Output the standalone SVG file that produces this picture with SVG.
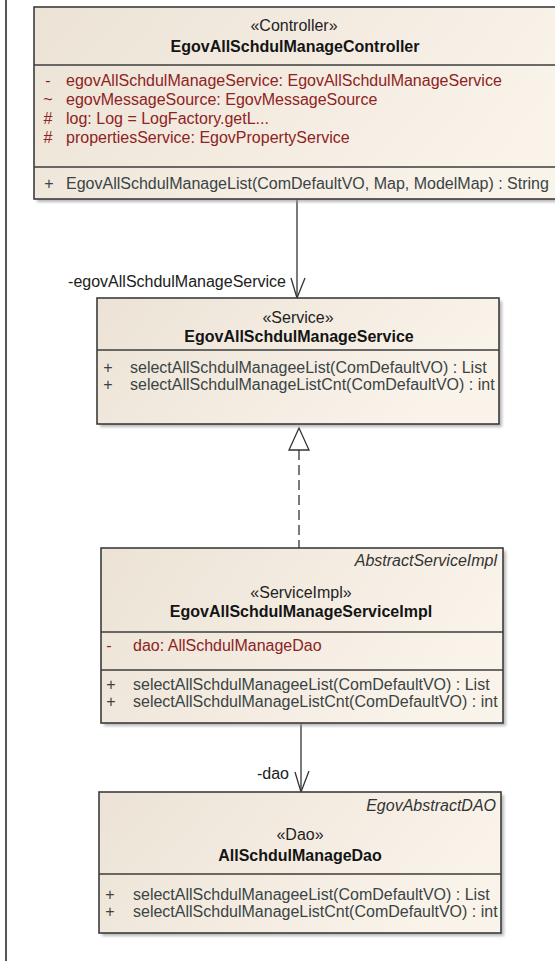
<svg xmlns="http://www.w3.org/2000/svg" width="555" height="961" viewBox="0 0 555 961">
<style>
  text { font-family: "Liberation Sans", Arial, sans-serif; font-size: 16px; }
  .stereo { fill: #1e1e1e; text-anchor: middle; }
  .title { fill: #141414; text-anchor: middle; font-weight: bold; }
  .attr { fill: #8e2323; }
  .meth { fill: #3a4444; }
  .vis { text-anchor: middle; }
  .parent { fill: #333333; font-style: italic; text-anchor: end; }
  .lbl { fill: #202020; text-anchor: end; }
  .box { fill: url(#fillG); stroke: #3c3c3c; stroke-width: 1.6; }
  .shadow { fill: #9a9a9a; opacity: 0.7; filter: url(#blur); }
  .sep { stroke: #3c3c3c; stroke-width: 1.6; }
  .conn { stroke: #333333; stroke-width: 1.3; fill: none; }
  .dash { stroke-dasharray: 10 5; }
</style>
<defs>
  <linearGradient id="fillG" x1="0" y1="0" x2="1" y2="0.3">
    <stop offset="0" stop-color="#ece3d6"/>
    <stop offset="1" stop-color="#faf3ea"/>
  </linearGradient>
  <filter id="blur" x="-5%" y="-5%" width="110%" height="110%">
    <feGaussianBlur stdDeviation="1.5"/>
  </filter>
  <clipPath id="cpCtrl"><rect x="34" y="7" width="560" height="192"/></clipPath>
  <clipPath id="cpSvc"><rect x="97" y="298" width="402" height="126"/></clipPath>
  <clipPath id="cpImpl"><rect x="101" y="548" width="402" height="175"/></clipPath>
  <clipPath id="cpDao"><rect x="99" y="792" width="402" height="141"/></clipPath>
</defs>
<rect x="0" y="0" width="555" height="961" fill="#ffffff"/>
<line x1="6" y1="0" x2="6" y2="961" stroke="#555555" stroke-width="2"/>

<g id="connectors">
  <line class="conn" x1="297" y1="199" x2="297" y2="297"/>
  <polyline class="conn" points="291,278 297,298 305,278"/>
  <text class="lbl" x="286" y="287">-egovAllSchdulManageService</text>
  <polygon points="299,428 289,450 309,450" fill="#ffffff" stroke="#333333" stroke-width="1.3"/>
  <line class="conn dash" x1="299" y1="450" x2="299" y2="548"/>
  <line class="conn" x1="301" y1="723" x2="301" y2="791"/>
  <polyline class="conn" points="295,772 301,792 309,771"/>
  <text class="lbl" x="289" y="779">-dao</text>
</g>

<g id="EgovAllSchdulManageController">
  <rect class="shadow" x="37" y="10" width="560" height="192"/>
  <rect class="box" x="34" y="7" width="560" height="192"/>
  <line class="sep" x1="34" y1="65" x2="594" y2="65"/>
  <line class="sep" x1="34" y1="167" x2="594" y2="167"/>
  <g clip-path="url(#cpCtrl)">
    <text class="stereo" x="294" y="31">«Controller»</text>
    <text class="title" x="295" y="52">EgovAllSchdulManageController</text>
    <text class="attr vis" x="48" y="86">-</text>
    <text class="attr" x="66" y="86">egovAllSchdulManageService:  EgovAllSchdulManageService</text>
    <text class="attr vis" x="48" y="105">~</text>
    <text class="attr" x="66" y="105">egovMessageSource:  EgovMessageSource</text>
    <text class="attr vis" x="48" y="124">#</text>
    <text class="attr" x="66" y="124">log:  Log = LogFactory.getL...</text>
    <text class="attr vis" x="48" y="143">#</text>
    <text class="attr" x="66" y="143">propertiesService:  EgovPropertyService</text>
    <text class="meth vis" x="49" y="189">+</text>
    <text class="meth" x="66" y="189">EgovAllSchdulManageList(ComDefaultVO, Map, ModelMap) : String</text>
  </g>
</g>

<g id="EgovAllSchdulManageService">
  <rect class="shadow" x="100" y="301" width="402" height="126"/>
  <rect class="box" x="97" y="298" width="402" height="126"/>
  <line class="sep" x1="97" y1="350" x2="499" y2="350"/>
  <g clip-path="url(#cpSvc)">
    <text class="stereo" x="298" y="323">«Service»</text>
    <text class="title" x="299" y="342">EgovAllSchdulManageService</text>
    <text class="meth vis" x="108" y="373">+</text>
    <text class="meth" x="130" y="373">selectAllSchdulManageeList(ComDefaultVO) : List</text>
    <text class="meth vis" x="108" y="390">+</text>
    <text class="meth" x="130" y="390">selectAllSchdulManageListCnt(ComDefaultVO) : int</text>
  </g>
</g>

<g id="EgovAllSchdulManageServiceImpl">
  <rect class="shadow" x="104" y="551" width="402" height="175"/>
  <rect class="box" x="101" y="548" width="402" height="175"/>
  <line class="sep" x1="101" y1="632" x2="503" y2="632"/>
  <line class="sep" x1="101" y1="670" x2="503" y2="670"/>
  <g clip-path="url(#cpImpl)">
    <text class="parent" x="497" y="566">AbstractServiceImpl</text>
    <text class="stereo" x="301" y="598">«ServiceImpl»</text>
    <text class="title" x="301" y="617">EgovAllSchdulManageServiceImpl</text>
    <text class="attr vis" x="109" y="651">-</text>
    <text class="attr" x="133" y="651">dao:  AllSchdulManageDao</text>
    <text class="meth vis" x="111" y="690">+</text>
    <text class="meth" x="133" y="690">selectAllSchdulManageeList(ComDefaultVO) : List</text>
    <text class="meth vis" x="111" y="707">+</text>
    <text class="meth" x="133" y="707">selectAllSchdulManageListCnt(ComDefaultVO) : int</text>
  </g>
</g>

<g id="AllSchdulManageDao">
  <rect class="shadow" x="102" y="795" width="402" height="141"/>
  <rect class="box" x="99" y="792" width="402" height="141"/>
  <line class="sep" x1="99" y1="874" x2="501" y2="874"/>
  <g clip-path="url(#cpDao)">
    <text class="parent" x="496" y="811">EgovAbstractDAO</text>
    <text class="stereo" x="300" y="840">«Dao»</text>
    <text class="title" x="300" y="861">AllSchdulManageDao</text>
    <text class="meth vis" x="110" y="900">+</text>
    <text class="meth" x="133" y="900">selectAllSchdulManageeList(ComDefaultVO) : List</text>
    <text class="meth vis" x="110" y="917">+</text>
    <text class="meth" x="133" y="917">selectAllSchdulManageListCnt(ComDefaultVO) : int</text>
  </g>
</g>
</svg>
